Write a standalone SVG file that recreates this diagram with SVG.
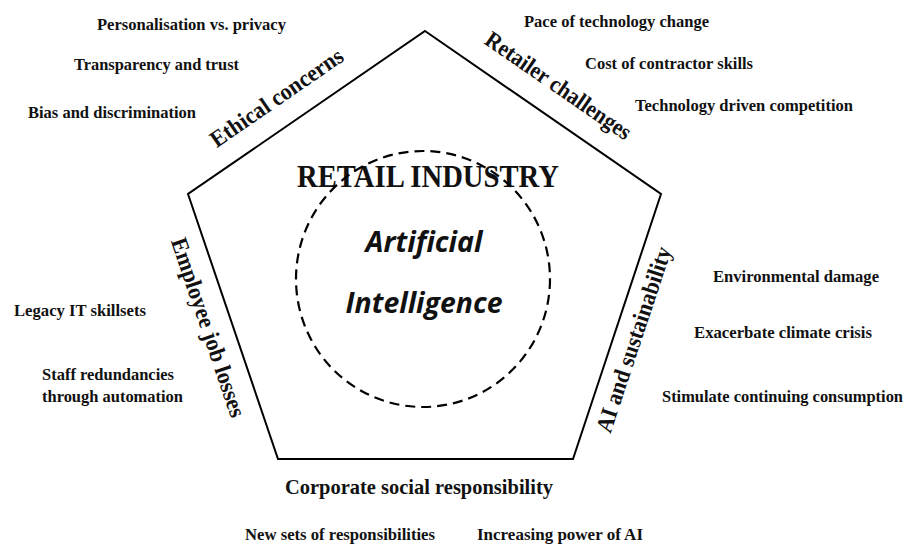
<svg xmlns="http://www.w3.org/2000/svg" width="917" height="547" viewBox="0 0 917 547">
  <style>
    .frame { fill: none; stroke: #000; stroke-width: 2; stroke-linejoin: miter; }
    .core { fill: none; stroke: #000; stroke-width: 2.2; stroke-dasharray: 10 6; }
    .serif { font-family: "Liberation Serif", "Times New Roman", serif; font-weight: bold; fill: #111; }
    .side { font-size: 23.5px; }
    .item { font-size: 17.5px; }
    .title { font-size: 31px; }
    .ai { font-family: "Open Sans", "Liberation Sans", sans-serif; font-weight: bold; font-style: italic; font-size: 28px; fill: #111; text-anchor: middle; }
  </style>
  <rect width="917" height="547" fill="#fff"/>

  <!-- pentagon frame -->
  <g id="frame">
    <polygon class="frame" points="425,31 661,194 573,459 278,459 188,194"/>
  </g>

  <!-- centre: retail industry with AI core -->
  <g id="retail-industry">
    <text class="serif title" x="297" y="187" textLength="262" lengthAdjust="spacingAndGlyphs">RETAIL INDUSTRY</text>
  </g>
  <g id="artificial-intelligence">
    <ellipse class="core" cx="423" cy="279" rx="127" ry="128"/>
    <text class="ai" x="424" y="252" textLength="117" lengthAdjust="spacingAndGlyphs">Artificial</text>
    <text class="ai" x="424" y="313" textLength="157" lengthAdjust="spacingAndGlyphs">Intelligence</text>
  </g>

  <!-- ethical concerns -->
  <g id="ethical-concerns">
    <text class="serif side" text-anchor="middle" transform="translate(281,104) rotate(-34.5)" textLength="156" lengthAdjust="spacingAndGlyphs">Ethical concerns</text>
    <text class="serif item" x="97" y="29.5" textLength="189" lengthAdjust="spacingAndGlyphs">Personalisation vs. privacy</text>
    <text class="serif item" x="74" y="70" textLength="165" lengthAdjust="spacingAndGlyphs">Transparency and trust</text>
    <text class="serif item" x="28" y="117.5" textLength="168" lengthAdjust="spacingAndGlyphs">Bias and discrimination</text>
  </g>

  <!-- retailer challenges -->
  <g id="retailer-challenges">
    <text class="serif side" text-anchor="middle" transform="translate(554,92) rotate(34.6)" textLength="172" lengthAdjust="spacingAndGlyphs">Retailer challenges</text>
    <text class="serif item" x="524" y="27" textLength="185" lengthAdjust="spacingAndGlyphs">Pace of technology change</text>
    <text class="serif item" x="585" y="69" textLength="168" lengthAdjust="spacingAndGlyphs">Cost of contractor skills</text>
    <text class="serif item" x="635" y="111" textLength="218" lengthAdjust="spacingAndGlyphs">Technology driven competition</text>
  </g>

  <!-- employee job losses -->
  <g id="employee-job-losses">
    <text class="serif side" text-anchor="middle" transform="translate(201,330) rotate(71.2)" textLength="188" lengthAdjust="spacingAndGlyphs">Employee job losses</text>
    <text class="serif item" x="14" y="315.5" textLength="132" lengthAdjust="spacingAndGlyphs">Legacy IT skillsets</text>
    <text class="serif item" x="42" y="380" textLength="132" lengthAdjust="spacingAndGlyphs">Staff redundancies</text>
    <text class="serif item" x="42" y="402" textLength="141" lengthAdjust="spacingAndGlyphs">through automation</text>
  </g>

  <!-- AI and sustainability -->
  <g id="ai-sustainability">
    <text class="serif side" text-anchor="middle" transform="translate(641,342) rotate(-71.6)" textLength="194" lengthAdjust="spacingAndGlyphs">AI and sustainability</text>
    <text class="serif item" x="713" y="282" textLength="166" lengthAdjust="spacingAndGlyphs">Environmental damage</text>
    <text class="serif item" x="694" y="338" textLength="178" lengthAdjust="spacingAndGlyphs">Exacerbate climate crisis</text>
    <text class="serif item" x="662" y="402" textLength="241" lengthAdjust="spacingAndGlyphs">Stimulate continuing consumption</text>
  </g>

  <!-- corporate social responsibility -->
  <g id="corporate-social-responsibility">
    <text class="serif" font-size="22" x="285" y="494" textLength="268" lengthAdjust="spacingAndGlyphs">Corporate social responsibility</text>
    <text class="serif item" x="245" y="540" textLength="190" lengthAdjust="spacingAndGlyphs">New sets of responsibilities</text>
    <text class="serif item" x="477" y="540" textLength="166" lengthAdjust="spacingAndGlyphs">Increasing power of AI</text>
  </g>
</svg>
